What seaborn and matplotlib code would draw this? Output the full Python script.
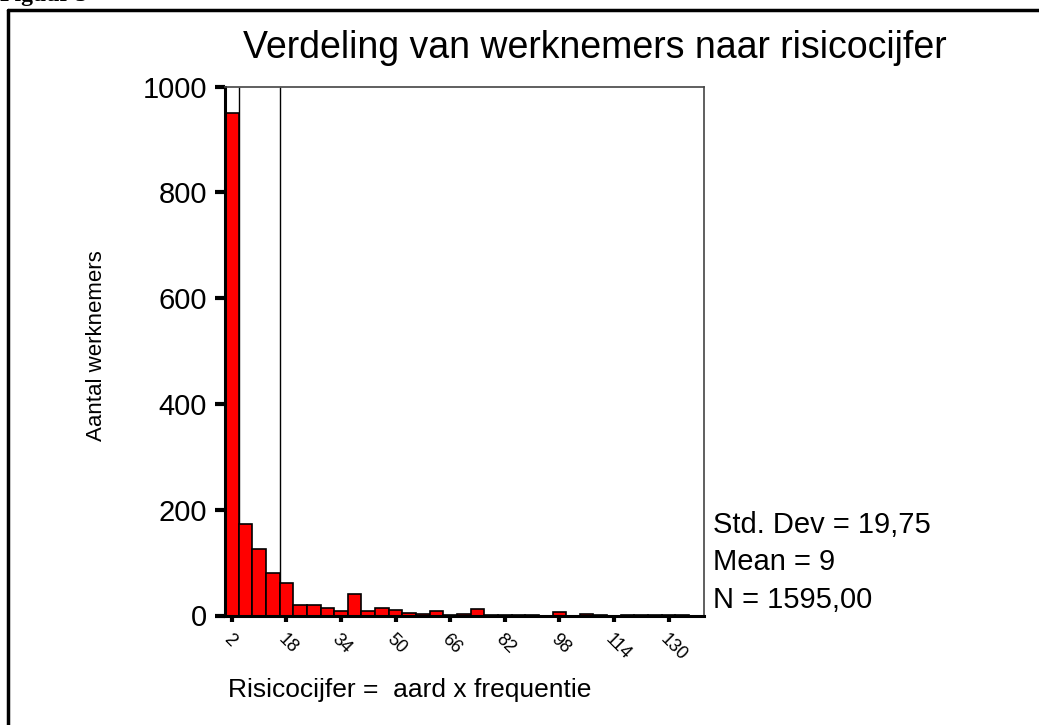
import numpy as np
import pandas as pd
import matplotlib
matplotlib.use("Agg")
import matplotlib.pyplot as plt
import seaborn as sns

# ---- data ----
bin_edges = list(range(0, 140, 4))  # 0,4,...,136
counts = [950, 173, 126, 80, 62, 20, 20, 15, 8, 40, 8, 15, 11, 5, 3, 8, 1, 3, 12,
          1, 1, 1, 1, 0, 6, 0, 3, 1, 0, 1, 1, 1, 1, 1]
tick_values = [2, 18, 34, 50, 66, 82, 98, 114, 130]
y_ticks = [0, 200, 400, 600, 800, 1000]
frame_lines = [4, 16]
title = "Verdeling van werknemers naar risicocijfer"
x_label = "Risicocijfer =  aard x frequentie"
y_label = "Aantal werknemers"
stats = ["Std. Dev = 19,75", "Mean = 9", "N = 1595,00"]

centers = [e + 2 for e in bin_edges[:-1]]
df = pd.DataFrame({"risico": centers, "n": counts})

sns.set_style("white")
plt.rcParams["font.family"] = ["Liberation Sans", "DejaVu Sans"]
plt.rcParams["text.color"] = "black"
plt.rcParams["xtick.color"] = "black"
plt.rcParams["ytick.color"] = "black"

fig = plt.figure(figsize=(10.39, 7.25), dpi=100)
ax = fig.add_axes([225 / 1039, 1 - 615.5 / 725, (704 - 225) / 1039, (615.5 - 86.7) / 725])

ax.vlines(frame_lines, 0, 1000, color="black", linewidth=1.0, zorder=1)
sns.histplot(data=df, x="risico", weights="n", bins=bin_edges, ax=ax,
             color="#ff0000", edgecolor="black", linewidth=1.2, alpha=1.0, zorder=2)

ax.set_xlim(0, 140.4)
ax.set_ylim(0, 1000)
ax.set_xticks(tick_values)
ax.set_xticklabels([str(v) for v in tick_values], rotation=-45, ha="left",
                   rotation_mode="anchor", fontsize=13)
ax.set_yticks(y_ticks)
ax.set_yticklabels([str(v) for v in y_ticks], fontsize=21)
ax.tick_params(axis="x", direction="out", length=4, width=3, color="black", pad=7,
               bottom=True)
ax.tick_params(axis="y", direction="out", length=7, width=3, color="black", pad=6,
               left=True)
ax.set_xlabel("")
ax.set_ylabel("")
for side in ["left", "bottom"]:
    ax.spines[side].set_color("black")
    ax.spines[side].set_linewidth(2.2)
for side in ["top", "right"]:
    ax.spines[side].set_color("#444444")
    ax.spines[side].set_linewidth(1.2)

fig.text(595 / 1039, 1 - 48 / 725, title, ha="center", va="center", fontsize=27)
fig.text(410 / 1039, 1 - 690 / 725, x_label, ha="center", va="center", fontsize=19)
fig.text(96 / 1039, 1 - 346 / 725, y_label, ha="center", va="center", rotation=90,
         fontsize=16)
for i, s in enumerate(stats):
    fig.text(713 / 1039, 1 - (525 + 37.5 * i) / 725, s, ha="left", va="center",
             fontsize=21)

# outer frame (left and top visible)
fig.add_artist(plt.Line2D([8 / 1039, 8 / 1039], [0, 1 - 10 / 725], color="black",
                          linewidth=2.5, transform=fig.transFigure))
fig.add_artist(plt.Line2D([8 / 1039, 1], [1 - 10 / 725, 1 - 10 / 725], color="black",
                          linewidth=2.5, transform=fig.transFigure))
fig.text(0.0, 1 + 4 / 725, "Figuur 5", ha="left", va="center", fontsize=17,
         fontweight="bold", family=["Liberation Serif", "DejaVu Serif"])

fig.savefig("out.png", dpi=100)
